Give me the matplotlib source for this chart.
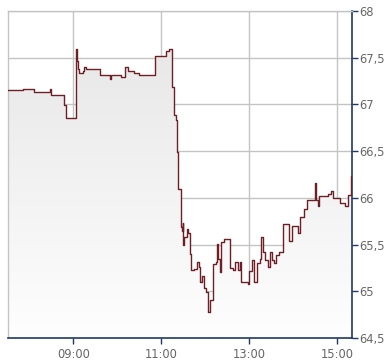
import numpy as np
import matplotlib
matplotlib.use("Agg")
import matplotlib.pyplot as plt
from matplotlib.ticker import FixedLocator, FuncFormatter

# intraday step series (time, price)
times = ["07:31", "07:52", "08:07", "08:28", "08:30", "08:48", "08:50",
         "09:04", "09:05", "09:06", "09:08", "09:13", "09:15", "09:18",
         "09:36", "09:50", "09:52", "10:05", "10:10", "10:14", "10:23",
         "10:30", "10:52", "11:06", "11:10", "11:15", "11:18", "11:20",
         "11:21", "11:23", "11:27", "11:28", "11:29", "11:30", "11:31",
         "11:35", "11:37", "11:39", "11:41", "11:44", "11:48", "11:52",
         "11:53", "11:55", "11:58", "12:01", "12:03", "12:06", "12:10",
         "12:15", "12:16", "12:17", "12:20", "12:22", "12:25", "12:33",
         "12:38", "12:41", "12:44", "12:47", "12:49", "12:58", "13:00",
         "13:04", "13:07", "13:10", "13:14", "13:16", "13:19", "13:22",
         "13:25", "13:28", "13:31", "13:34", "13:37", "13:40", "13:46",
         "13:54", "13:58", "14:07", "14:09", "14:15", "14:19", "14:29",
         "14:31", "14:34", "14:35", "14:36", "14:47", "14:51", "14:54",
         "15:04", "15:10", "15:15", "15:18"]
prices = [67.15, 67.17, 67.13, 67.17, 67.10, 66.99, 66.855,
          67.59, 67.47, 67.38, 67.34, 67.36, 67.40, 67.38,
          67.31, 67.27, 67.31, 67.29, 67.40, 67.36, 67.34,
          67.31, 67.52, 67.57, 67.59, 67.19, 66.89, 66.83,
          66.49, 66.09, 65.69, 65.64, 65.73, 65.50, 65.58,
          65.67, 65.62, 65.40, 65.23, 65.24, 65.31, 65.26,
          65.10, 65.16, 65.03, 64.99, 64.78, 64.91, 65.29,
          65.31, 65.51, 65.35, 65.21, 65.53, 65.56, 65.25,
          65.23, 65.31, 65.23, 65.31, 65.10, 65.08, 65.22,
          65.33, 65.10, 65.30, 65.35, 65.58, 65.42, 65.33,
          65.26, 65.42, 65.33, 65.30, 65.39, 65.42, 65.72,
          65.54, 65.70, 65.62, 65.79, 65.88, 65.98, 66.16,
          65.98, 65.91, 66.02, 66.02, 66.04, 66.07, 66.00,
          65.95, 65.91, 66.03, 66.23]
end_time = "15:20"

y_ticks = [64.5, 65, 65.5, 66, 66.5, 67, 67.5, 68]
x_ticks = ["09:00", "11:00", "13:00", "15:00"]


def to_hours(s):
    h, m = s.split(":")
    return int(h) + int(m) / 60.0


x = np.array([to_hours(t) for t in times] + [to_hours(end_time)])
y = np.array(prices + [prices[-1]])

fig = plt.figure(figsize=(3.9, 3.64), dpi=100)
ax = fig.add_axes([8 / 390, 1 - 338 / 364, 344 / 390, 327 / 364])

x0, x1 = to_hours("07:31"), to_hours(end_time)
ax.set_xlim(x0, x1)
ax.set_ylim(64.5, 68)

# gradient fill under the step line
poly = ax.fill_between(x, y, 64.5, step="post", color="none", lw=0)
grad = np.linspace(0, 1, 256).reshape(-1, 1)
img = ax.imshow(grad, cmap=matplotlib.colors.LinearSegmentedColormap.from_list(
    "g", ["#fefefe", "#e8e8e8"]), extent=[x0, x1, 64.5, 67.6],
    origin="lower", aspect="auto", zorder=1)
img.set_clip_path(poly.get_paths()[0], transform=ax.transData)

ax.step(x, y, where="post", color="#6e1f26", lw=1.0, zorder=3)

ax.grid(True, color="#c4c4c4", lw=1.0, zorder=0)
ax.set_axisbelow(True)

ax.yaxis.tick_right()
ax.yaxis.set_major_locator(FixedLocator(y_ticks))
ax.yaxis.set_major_formatter(FuncFormatter(lambda v, p: f"{v:g}".replace(".", ",")))
ax.xaxis.set_major_locator(FixedLocator([to_hours(t) for t in x_ticks]))
ax.set_xticklabels(x_ticks)

ax.tick_params(axis="both", colors="#1f3864", labelcolor="#666666",
               labelsize=8.3, length=4, width=1, direction="out")
ax.tick_params(axis="y", pad=1)
ax.tick_params(axis="x", pad=3)

for side in ["left", "top"]:
    ax.spines[side].set_color("#c4c4c4")
    ax.spines[side].set_linewidth(1.0)
for side in ["right", "bottom"]:
    ax.spines[side].set_color("#1f3864")
    ax.spines[side].set_linewidth(1.2)

fig.savefig("out.png", dpi=100)
